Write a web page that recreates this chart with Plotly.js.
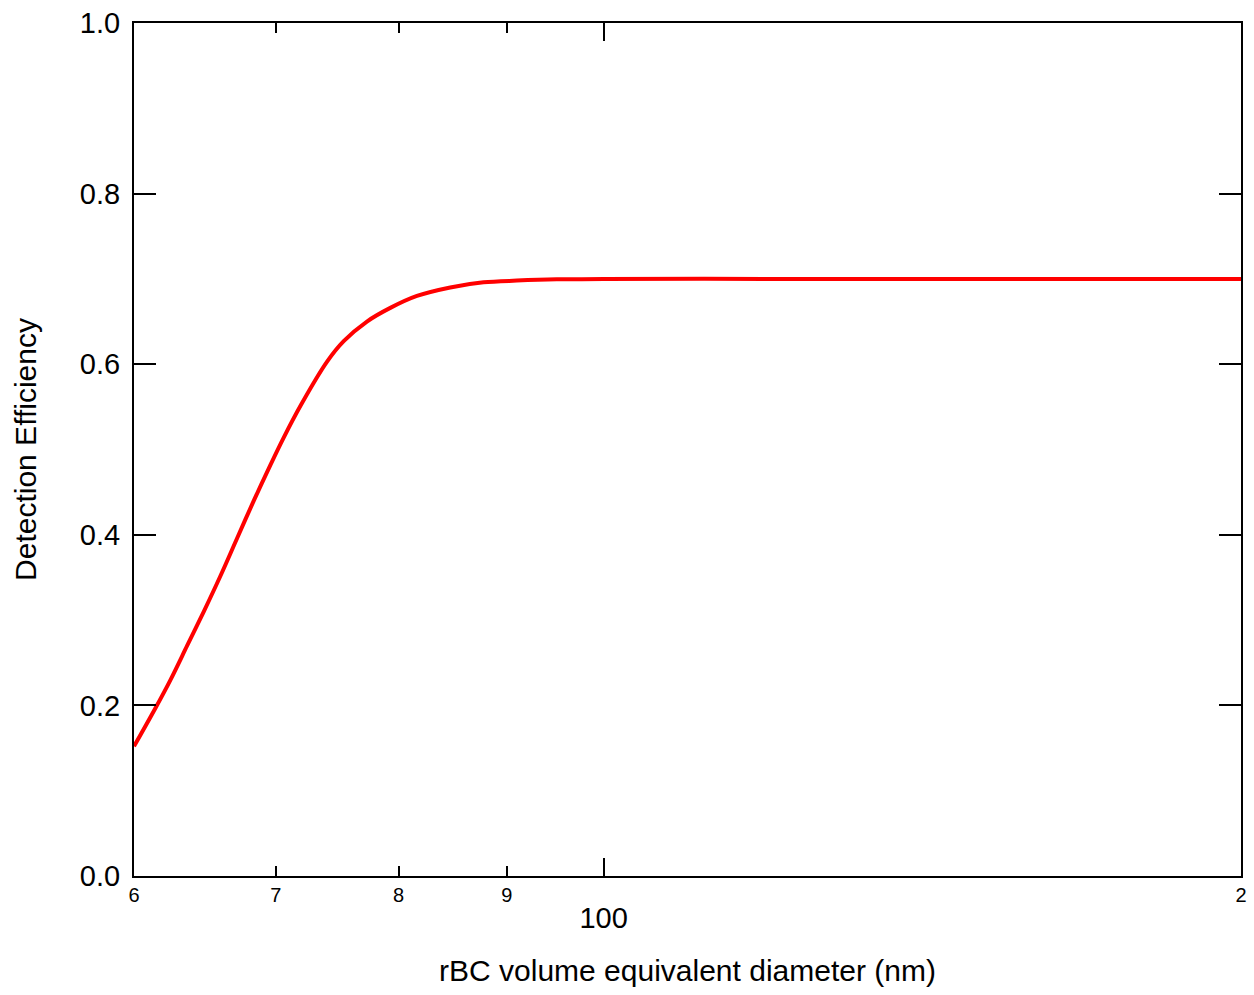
<!DOCTYPE html>
<html>
<head>
<meta charset="utf-8">
<script src="https://cdn.plot.ly/plotly-3.0.1.min.js"></script>
<style>html,body{margin:0;padding:0;background:#fff;}#chart{width:1254px;height:995px;}</style>
</head>
<body>
<div id="chart"></div>
<script>
// rBC volume equivalent diameter (nm)
var diameter = [60, 61.42, 62.43, 63.57, 64.73, 65.92, 67.12, 68.35, 69.6, 70.61, 71.9, 74.02, 75.37, 77.3, 79.29, 81.62, 84.63, 87.75, 90.99, 95.03, 100, 120, 150, 200];
// Detection efficiency
var efficiency = [0.152, 0.197, 0.230, 0.270, 0.310, 0.352, 0.396, 0.440, 0.482, 0.514, 0.551, 0.603, 0.627, 0.650, 0.666, 0.680, 0.690, 0.696, 0.698, 0.6995, 0.700, 0.700, 0.700, 0.700];

var minorTickVals = [60, 70, 80, 90, 200];
var minorTickText = ["6", "7", "8", "9", "2"];
var majorTickVals = [100];
var majorTickText = ["100"];
var yTickVals = [0, 0.2, 0.4, 0.6, 0.8, 1.0];

var xRange = [Math.log10(60), Math.log10(200)];
var font = "Liberation Sans, Arial, sans-serif";

var trace = {
  x: diameter, y: efficiency, type: "scatter", mode: "lines",
  line: {color: "#ff0000", width: 4, shape: "spline", smoothing: 0.9},
  hoverinfo: "skip", showlegend: false
};

var layout = {
  width: 1254, height: 995,
  margin: {l: 134, r: 13, t: 23, b: 119},
  paper_bgcolor: "#ffffff", plot_bgcolor: "#ffffff",
  font: {family: font, color: "#000000"},
  showlegend: false,
  xaxis: {
    type: "log", range: xRange, autorange: false,
    tickmode: "array", tickvals: minorTickVals, ticktext: minorTickText,
    ticks: "inside", ticklen: 10, tickwidth: 2, tickcolor: "#000",
    tickfont: {size: 20, family: font, color: "#000"},
    showline: true, linecolor: "#000", linewidth: 2, mirror: "ticks",
    showgrid: false, zeroline: false, ticklabelstandoff: 0,
    title: {text: "rBC volume equivalent diameter (nm)", font: {size: 30, family: font, color: "#000"}, standoff: 55},
    automargin: false
  },
  xaxis2: {
    type: "log", range: xRange, autorange: false, overlaying: "x", anchor: "y", side: "bottom",
    tickmode: "array", tickvals: majorTickVals, ticktext: majorTickText,
    ticks: "inside", ticklen: 18, tickwidth: 2, tickcolor: "#000",
    tickfont: {size: 29, family: font, color: "#000"},
    showline: true, linecolor: "#000", linewidth: 2, mirror: "ticks",
    showgrid: false, zeroline: false, ticklabelstandoff: 15,
    automargin: false
  },
  yaxis: {
    range: [0, 1.0], autorange: false,
    tickmode: "array", tickvals: yTickVals, tickformat: ".1f",
    ticks: "inside", ticklen: 22, tickwidth: 2, tickcolor: "#000",
    tickfont: {size: 29, family: font, color: "#000"},
    showline: true, linecolor: "#000", linewidth: 2, mirror: "ticks",
    showgrid: false, zeroline: false, ticklabelstandoff: 6,
    title: {text: "Detection Efficiency", font: {size: 30, family: font, color: "#000"}, standoff: 34},
    automargin: false
  }
};

var trace2 = {x: [100], y: [null], xaxis: "x2", yaxis: "y", type: "scatter", mode: "lines", hoverinfo: "skip", showlegend: false};

Plotly.newPlot("chart", [trace, trace2], layout, {displayModeBar: false, staticPlot: true});
</script>
</body>
</html>
